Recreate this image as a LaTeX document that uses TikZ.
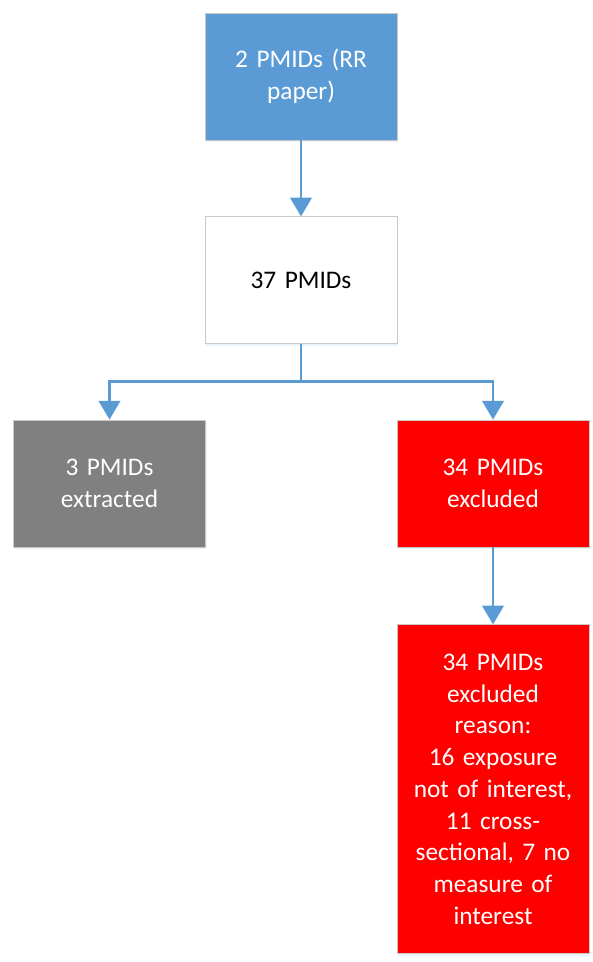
\documentclass[tikz,border=0pt]{standalone}
\usepackage{fontspec}
\setmainfont{Carlito}
\usepackage{tikz}
\usetikzlibrary{arrows.meta, positioning, shadows}
\usepackage{xcolor}
\definecolor{flowblue}{HTML}{5B9BD5}
\definecolor{flowgrey}{HTML}{808080}
\definecolor{flowred}{HTML}{FF0000}
\definecolor{flowedge}{HTML}{C8C8C8}

\begin{document}
\begin{tikzpicture}[
    x=0.75pt, y=-0.75pt,
    box/.style = {rectangle, draw=flowedge, line width=0.6pt, align=center, font=\fontsize{19}{23.8}\selectfont, inner sep=4pt, minimum width=144pt, minimum height=95.25pt, text width=134pt, drop shadow={opacity=0.12, shadow xshift=1pt, shadow yshift=-1.5pt, fill=flowblue}},
    bluebox/.style = {box, fill=flowblue, text=white},
    whitebox/.style = {box, fill=white, text=black},
    greybox/.style = {box, fill=flowgrey, text=white},
    redbox/.style = {box, fill=flowred, text=white},
    arrow/.style = {draw=flowblue, line width=2pt, -{Triangle[width=16pt, length=14pt]}}
]
\useasboundingbox (0,0) rectangle (592,962);

% Top and middle
\node (rr) [bluebox, at={(301,76.5)}] {2 PMIDs (RR\\paper)};
\node (all) [whitebox, below=57pt of rr] {37 PMIDs};

% Split
\node (extracted) [greybox, at={(109.5,483.5)}] {3 PMIDs\\extracted};
\node (excluded) [redbox, at={(493,483.5)}] {34 PMIDs\\excluded};

% Reasons
\node (reason) [redbox, minimum height=246.75pt, below=57.75pt of excluded] {34 PMIDs\\excluded\\reason:\\16 exposure\\not of interest,\\11 cross-\\sectional, 7 no\\measure of\\interest};

% Connections
\draw [arrow] (rr) -- (all);
\draw [arrow] (all.south) -- ++(0,37) -| (extracted.north);
\draw [arrow] (all.south) -- ++(0,37) -| (excluded.north);
\draw [arrow] (excluded) -- (reason);

\end{tikzpicture}
\end{document}
